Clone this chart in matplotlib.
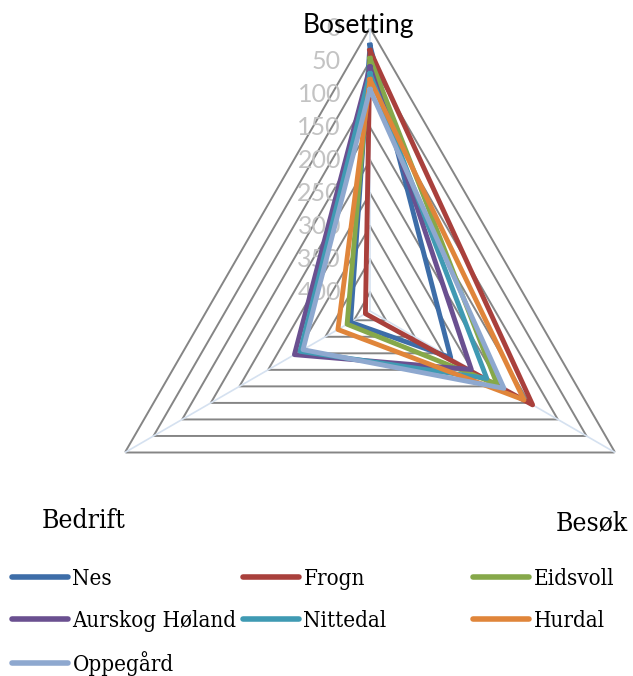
import numpy as np
import matplotlib

matplotlib.use("Agg")
import matplotlib.pyplot as plt
from matplotlib.lines import Line2D

categories = ["Bosetting", "Besøk", "Bedrift"]
series_names = ["Nes", "Frogn", "Eidsvoll", "Aurskog Høland", "Nittedal", "Hurdal", "Oppegård"]
nes = [26, 287, 394]
frogn = [34, 144, 420]
eidsvoll = [46, 206, 388]
aurskog = [59, 251, 296]
nittedal = [69, 224, 306]
hurdal = [78, 159, 372]
oppegard = [93, 194, 311]
series_values = [nes, frogn, eidsvoll, aurskog, nittedal, hurdal, oppegard]
colors = ["#3D6DA8", "#A9403C", "#86A84A", "#6A5090", "#3F9AB3", "#E0853A", "#8EA8CF"]
ticks = [0, 50, 100, 150, 200, 250, 300, 350, 400]
r_center = 428

W, H = 633, 676
fig = plt.figure(figsize=(W / 100, H / 100), dpi=100)
cx, cy, R = 370, 311, 283
ax = fig.add_axes([(cx - R) / W, (H - cy - R) / H, 2 * R / W, 2 * R / H], projection="polar")
ax.set_theta_offset(np.pi / 2)
ax.set_theta_direction(-1)
ax.set_rlim(r_center, 0)
ax.grid(False)
ax.spines["polar"].set_visible(False)
ax.set_xticks([])
ax.set_yticks([])
ax.patch.set_alpha(0)

angles = np.linspace(0, 2 * np.pi, len(categories), endpoint=False)
closed = np.append(angles, angles[0])

for t in ticks:
    ax.plot(closed, [t] * len(closed), color="#858585", lw=1.4, zorder=1)
for a in angles:
    ax.plot([a, a], [r_center, 0], color="#D5E1F0", lw=1.2, zorder=1.5)

for name, vals, c in zip(series_names, series_values, colors):
    ax.plot(closed, vals + vals[:1], color=c, lw=3.5, label=name,
            solid_joinstyle="round", zorder=3)

for t in ticks:
    ax.annotate(str(t), xy=(0, t), xytext=(-29, 0), textcoords="offset pixels",
                ha="right", va="center", fontsize=18, color="#C3C3C3",
                family="Lato", zorder=2, annotation_clip=False)

serif = ["DejaVu Serif"]
fig.text(358 / W, 1 - 26 / H, "Bosetting", ha="center", va="center", fontsize=19,
         family="Lato", color="black", zorder=10)
fig.text(84 / W, 1 - 521 / H, "Bedrift", ha="center", va="center", fontsize=19,
         family=serif, stretch="condensed", color="black")
fig.text(592 / W, 1 - 523 / H, "Besøk", ha="center", va="center", fontsize=19,
         family=serif, stretch="condensed", color="black")

columns = [[0, 3, 6], [1, 4], [2, 5]]
col_x = [12, 243, 473]
for xs, idx in zip(col_x, columns):
    handles = [Line2D([], [], color=colors[i], lw=4, solid_capstyle="round") for i in idx]
    fig.legend(handles, [series_names[i] for i in idx], loc="upper left",
               bbox_to_anchor=(xs / W, 1 - 568 / H), frameon=False, borderpad=0,
               borderaxespad=0, handlelength=2.5, handletextpad=0.22, labelspacing=0.88,
               prop={"family": serif, "stretch": "condensed", "size": 16})

fig.savefig("out.png", dpi=100)
